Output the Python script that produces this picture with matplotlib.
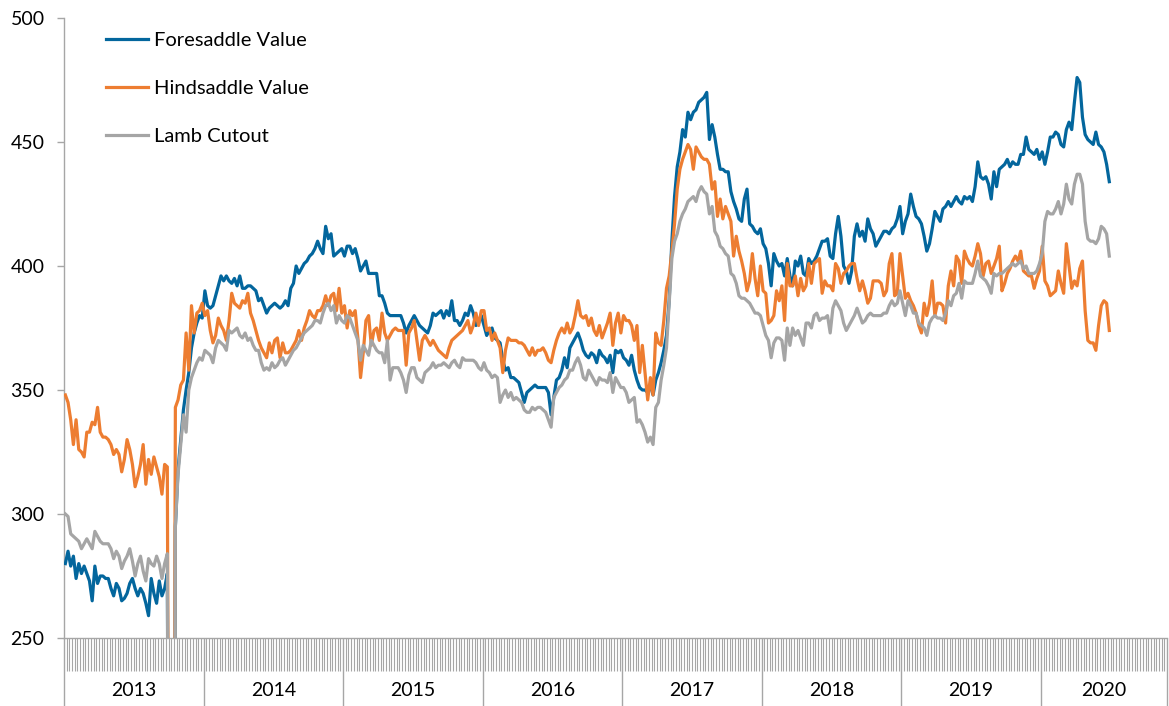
import numpy as np
import matplotlib.pyplot as plt
from matplotlib.transforms import blended_transform_factory

# weekly lamb values, 2013 - mid 2020 (0 = week with no report)
years = ['2013', '2014', '2015', '2016', '2017', '2018', '2019', '2020']
weeks_per_year = [52, 52, 52, 52, 52, 52, 52, 47]

foresaddle = [
    # 2013
    280, 285, 279, 283, 274, 280, 276, 279, 276, 273, 265, 279, 272, 275, 275, 274, 274, 270, 267, 272,
    270, 265, 266, 268, 272, 274, 270, 267, 270, 268, 264, 259, 274, 268, 264, 273, 267, 270, 276, 0,
    0, 295, 318, 330, 342, 350, 357, 367, 373, 377, 380, 379,
    # 2014
    390, 384, 383, 384, 388, 392, 396, 394, 396, 394, 393, 395, 392, 396, 391, 391, 392, 392, 391, 390,
    386, 387, 384, 381, 383, 384, 385, 384, 383, 384, 386, 384, 391, 393, 400, 397, 399, 401, 402, 404,
    405, 407, 410, 407, 405, 416, 411, 413, 404, 405, 406, 407,
    # 2015
    404, 408, 408, 405, 407, 403, 398, 400, 402, 397, 397, 397, 397, 388, 388, 385, 381, 380, 380, 380,
    380, 380, 377, 373, 376, 378, 380, 378, 376, 375, 374, 373, 376, 381, 380, 381, 382, 379, 382, 380,
    386, 378, 378, 376, 378, 381, 380, 384, 381, 376, 377, 380,
    # 2016
    376, 372, 374, 375, 371, 370, 369, 362, 358, 359, 355, 355, 354, 353, 349, 345, 349, 350, 351, 352,
    351, 351, 351, 351, 349, 340, 347, 354, 355, 358, 363, 359, 367, 369, 371, 373, 370, 366, 364, 363,
    365, 364, 361, 366, 364, 363, 361, 364, 357, 366, 365, 366,
    # 2017
    363, 362, 360, 364, 358, 354, 351, 350, 350, 349, 352, 348, 354, 357, 361, 366, 372, 386, 410, 428,
    440, 446, 455, 452, 462, 459, 462, 463, 466, 467, 468, 470, 451, 457, 452, 445, 439, 439, 438, 438,
    430, 426, 423, 419, 418, 427, 431, 417, 416, 414, 413, 415,
    # 2018
    409, 407, 401, 392, 405, 402, 400, 401, 396, 403, 396, 392, 402, 400, 404, 397, 396, 403, 401, 402,
    404, 407, 410, 410, 411, 404, 403, 413, 420, 412, 400, 398, 393, 398, 412, 417, 412, 414, 410, 419,
    415, 413, 408, 410, 412, 414, 414, 413, 415, 416, 419, 424,
    # 2019
    413, 418, 421, 429, 424, 420, 419, 417, 412, 406, 409, 415, 422, 420, 418, 423, 424, 426, 424, 426,
    428, 426, 425, 428, 427, 428, 426, 432, 442, 436, 435, 436, 433, 427, 438, 432, 439, 440, 441, 443,
    440, 442, 441, 441, 445, 445, 452, 447, 446, 445, 447, 443,
    # 2020
    446, 441, 446, 452, 452, 454, 453, 449, 448, 455, 458, 455, 466, 476, 474, 460, 453, 451, 450, 449,
    454, 449, 448, 446, 441, 434,
]

hindsaddle = [
    # 2013
    348, 345, 338, 328, 338, 326, 325, 323, 333, 333, 337, 336, 343, 333, 331, 331, 330, 328, 324, 326,
    324, 317, 322, 330, 326, 320, 311, 315, 320, 328, 312, 322, 316, 323, 319, 315, 308, 320, 319, 0,
    0, 343, 346, 352, 354, 373, 358, 384, 373, 381, 382, 385,
    # 2014
    380, 382, 374, 369, 372, 379, 376, 374, 370, 378, 389, 385, 384, 383, 386, 385, 389, 381, 378, 374,
    370, 367, 365, 363, 369, 365, 370, 371, 363, 369, 365, 365, 366, 368, 370, 374, 370, 375, 378, 382,
    380, 379, 382, 382, 384, 388, 384, 388, 389, 382, 391, 381,
    # 2015
    384, 375, 382, 380, 382, 371, 355, 365, 378, 380, 368, 374, 375, 370, 381, 373, 370, 372, 374, 375,
    374, 374, 374, 360, 373, 375, 378, 370, 362, 370, 372, 370, 368, 370, 368, 366, 365, 364, 363, 367,
    370, 371, 372, 373, 374, 376, 378, 373, 376, 381, 376, 382,
    # 2016
    382, 374, 375, 370, 373, 370, 367, 357, 366, 371, 370, 370, 370, 369, 369, 368, 366, 364, 367, 364,
    366, 366, 367, 365, 362, 361, 366, 370, 373, 375, 373, 377, 373, 375, 380, 386, 380, 379, 380, 376,
    379, 374, 372, 376, 371, 374, 377, 381, 368, 377, 381, 373,
    # 2017
    380, 378, 378, 376, 370, 376, 357, 368, 357, 346, 355, 348, 373, 369, 368, 378, 391, 396, 406, 417,
    431, 439, 443, 446, 449, 447, 439, 448, 446, 444, 443, 443, 441, 431, 434, 420, 427, 419, 424, 421,
    418, 404, 412, 406, 402, 397, 390, 394, 405, 395, 388, 400,
    # 2018
    390, 389, 377, 378, 380, 390, 386, 392, 378, 401, 392, 392, 396, 388, 395, 390, 392, 401, 393, 401,
    402, 403, 389, 394, 392, 392, 390, 401, 399, 393, 397, 398, 400, 401, 401, 395, 390, 394, 390, 385,
    387, 394, 394, 394, 393, 388, 390, 401, 405, 388, 389, 405,
    # 2019
    396, 387, 389, 386, 384, 381, 376, 373, 385, 380, 385, 394, 380, 385, 385, 384, 377, 392, 398, 392,
    404, 402, 393, 406, 403, 401, 400, 404, 409, 405, 396, 401, 402, 397, 400, 403, 408, 390, 393, 397,
    399, 402, 404, 402, 406, 398, 397, 396, 396, 391, 395, 398,
    # 2020
    408, 394, 392, 388, 389, 390, 398, 393, 389, 409, 400, 391, 394, 392, 399, 402, 382, 370, 369, 369,
    366, 376, 384, 386, 385, 374,
]

lamb_cutout = [
    # 2013
    300, 299, 292, 291, 290, 289, 286, 288, 290, 288, 286, 293, 291, 289, 288, 288, 288, 286, 282, 285,
    283, 278, 281, 283, 286, 281, 275, 280, 283, 277, 273, 282, 280, 279, 283, 280, 274, 280, 284, 0,
    0, 295, 316, 328, 340, 333, 350, 355, 358, 361, 363, 362,
    # 2014
    366, 365, 364, 361, 367, 370, 369, 368, 366, 374, 373, 374, 375, 372, 371, 373, 370, 371, 368, 366,
    366, 361, 358, 359, 358, 361, 359, 360, 362, 363, 360, 362, 364, 366, 367, 369, 371, 373, 374, 375,
    376, 378, 378, 377, 381, 384, 385, 382, 384, 377, 380, 378,
    # 2015
    377, 380, 379, 376, 373, 370, 362, 368, 366, 364, 370, 368, 366, 365, 365, 361, 370, 354, 359, 359,
    359, 357, 354, 349, 356, 359, 359, 355, 354, 353, 357, 358, 359, 361, 359, 360, 360, 361, 360, 359,
    361, 362, 360, 359, 363, 362, 362, 362, 362, 361, 359, 358,
    # 2016
    361, 358, 357, 355, 356, 355, 345, 348, 350, 347, 349, 346, 347, 346, 345, 342, 341, 341, 343, 342,
    343, 343, 342, 341, 338, 335, 347, 349, 351, 352, 354, 355, 358, 358, 361, 363, 360, 355, 354, 358,
    356, 354, 352, 355, 354, 354, 353, 357, 349, 355, 353, 351,
    # 2017
    351, 349, 345, 346, 347, 337, 338, 336, 333, 329, 331, 328, 343, 345, 354, 360, 367, 385, 403, 410,
    413, 418, 421, 423, 426, 427, 428, 426, 430, 432, 430, 429, 421, 424, 414, 412, 408, 407, 405, 404,
    397, 396, 393, 388, 387, 387, 386, 385, 383, 381, 381, 380,
    # 2018
    376, 372, 370, 363, 369, 371, 371, 370, 362, 375, 368, 375, 372, 374, 371, 368, 377, 377, 375, 380,
    381, 378, 379, 379, 380, 373, 383, 386, 384, 382, 377, 374, 376, 378, 380, 383, 380, 377, 378, 380,
    381, 380, 380, 380, 380, 381, 381, 384, 386, 384, 385, 390,
    # 2019
    385, 380, 386, 384, 381, 381, 377, 376, 375, 372, 377, 379, 380, 379, 379, 378, 381, 386, 384, 388,
    389, 393, 387, 394, 393, 393, 393, 397, 402, 396, 395, 394, 392, 389, 397, 396, 397, 397, 398, 399,
    400, 401, 400, 401, 402, 399, 400, 397, 397, 397, 398, 401,
    # 2020
    405, 418, 422, 421, 421, 423, 426, 421, 425, 433, 427, 425, 433, 437, 437, 433, 418, 411, 410, 410,
    409, 411, 416, 415, 413, 404,
]

plt.rcParams['font.family'] = ['Lato', 'DejaVu Sans']
axis_grey = '#A6A6A6'

fig = plt.figure(figsize=(11.69, 7.06), dpi=100)
ax = fig.add_axes([64 / 1169, 68 / 706, 1103 / 1169, 620 / 706])

x = np.arange(len(foresaddle))
ax.plot(x, foresaddle, color='#03669D', lw=2.3, label='Foresaddle Value', zorder=3)
ax.plot(x, hindsaddle, color='#ED7D31', lw=2.3, label='Hindsaddle Value', zorder=4)
ax.plot(x, lamb_cutout, color='#A5A5A5', lw=2.3, label='Lamb Cutout', zorder=5)

n_cat = sum(weeks_per_year)
ax.set_xlim(-0.5, n_cat - 0.5)
ax.set_ylim(250, 500)

for side in ['top', 'right']:
    ax.spines[side].set_visible(False)
for side in ['left', 'bottom']:
    ax.spines[side].set_color(axis_grey)
    ax.spines[side].set_linewidth(1.0)

ax.set_yticks(range(250, 501, 50))
ax.tick_params(axis='y', length=5, width=1, color=axis_grey, labelsize=14, pad=9)

bounds = np.concatenate([[0], np.cumsum(weeks_per_year)]) - 0.5
ax.set_xticks(bounds)
ax.set_xticklabels([])
ax.set_xticks(np.arange(-0.5, n_cat, 1), minor=True)
ax.tick_params(axis='x', which='major', length=49, width=1, color=axis_grey)
ax.tick_params(axis='x', which='minor', length=24, width=0.8, color=axis_grey)

trans = blended_transform_factory(ax.transData, ax.transAxes)
for i, yr in enumerate(years):
    mid = (bounds[i] + bounds[i + 1]) / 2
    ax.text(mid, -0.084, yr, transform=trans, ha='center', va='center', fontsize=14)

ax.legend(loc='upper left', bbox_to_anchor=(0.038, 0.978), frameon=False, fontsize=14.5,
          borderpad=0, borderaxespad=0, labelspacing=1.53, handlelength=2.09, handletextpad=0.3)

fig.savefig('out.png', dpi=100)
